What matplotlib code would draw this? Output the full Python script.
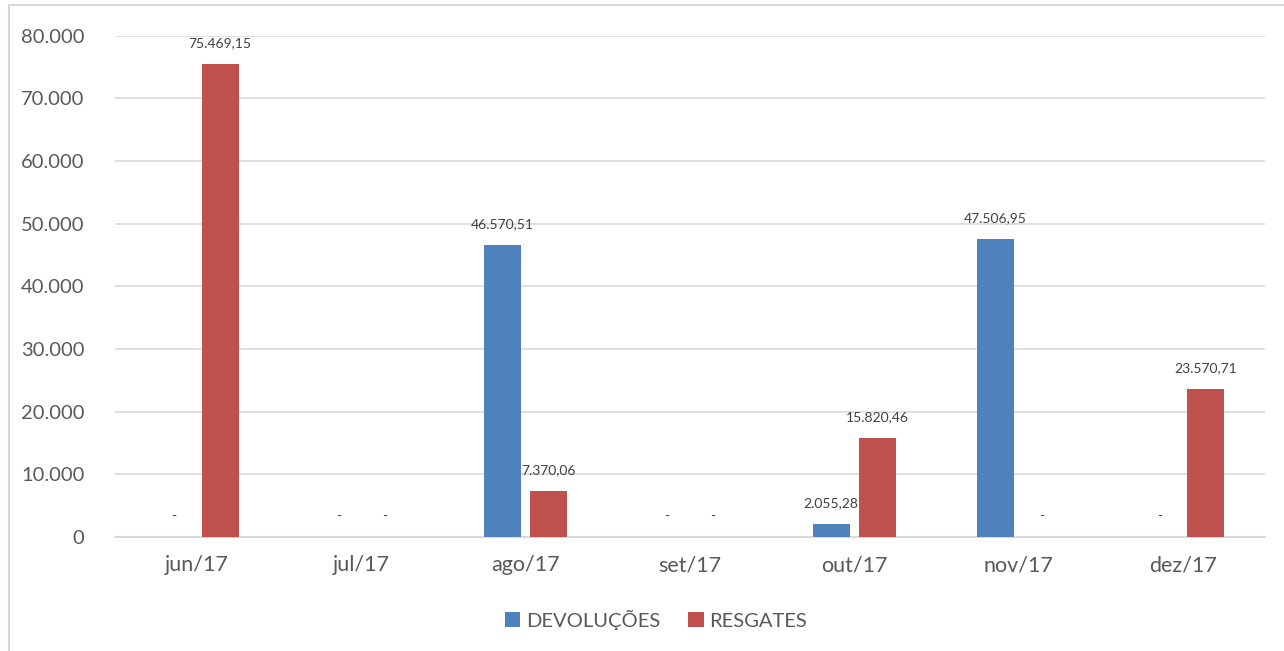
import numpy as np
import matplotlib.pyplot as plt
from matplotlib.patches import Rectangle

meses = ['jun/17', 'jul/17', 'ago/17', 'set/17', 'out/17', 'nov/17', 'dez/17']
devolucoes = [0, 0, 46570.51, 0, 2055.28, 47506.95, 0]
resgates = [75469.15, 0, 7370.06, 0, 15820.46, 0, 23570.71]
y_ticks = [0, 10000, 20000, 30000, 40000, 50000, 60000, 70000, 80000]

azul = '#4F81BD'
vermelho = '#C0504D'
cinza = '#595959'

plt.rcParams['font.family'] = ['Lato', 'DejaVu Sans']


def fmt_br(v, dec=2):
    # formato brasileiro: ponto para milhar, virgula para decimal
    if v == 0:
        return '-'
    s = f'{v:,.{dec}f}'
    return s.replace(',', 'X').replace('.', ',').replace('X', '.')


fig = plt.figure(figsize=(12.84, 6.51), dpi=100)
ax = fig.add_axes([0.0896, 0.175, 0.8954, 0.770])

x = np.arange(len(meses))
w = 0.225
off = 0.14
b1 = ax.bar(x - off, devolucoes, w, color=azul, label='DEVOLUÇÕES', zorder=3)
b2 = ax.bar(x + off, resgates, w, color=vermelho, label='RESGATES', zorder=3)

for barras, vals in ((b1, devolucoes), (b2, resgates)):
    for b, v in zip(barras, vals):
        ax.annotate(fmt_br(v), (b.get_x() + b.get_width() / 2, v),
                    xytext=(0, 15), textcoords='offset points',
                    ha='center', va='center', fontsize=10, color='#404040')

ax.set_xlim(-0.5, len(meses) - 0.5)
ax.set_ylim(0, 80000)
ax.set_yticks(y_ticks)
ax.set_yticklabels([fmt_br(t, 0) if t else '0' for t in y_ticks])
ax.set_xticks(x)
ax.set_xticklabels(meses)
ax.tick_params(axis='x', length=0, labelsize=15.5, colors=cinza, pad=13)
ax.tick_params(axis='y', length=0, labelsize=14.5, colors=cinza, pad=22)
ax.grid(axis='y', color='#D9D9D9', lw=1.2, zorder=0)
for s in ['top', 'right', 'left']:
    ax.spines[s].set_visible(False)
ax.spines['bottom'].set_color('#D9D9D9')
ax.spines['bottom'].set_linewidth(1.5)

fig.legend(handles=[b1, b2], loc='center', bbox_to_anchor=(0.511, 0.048),
           ncol=2, frameon=False, fontsize=14.5, handlelength=0.75,
           handleheight=0.75, handletextpad=0.3, columnspacing=1.4,
           labelcolor=cinza)

# moldura do grafico
fig.patches.append(Rectangle((9 / 1284, -0.05), 1.2, 1 - 5 / 651 + 0.05,
                             transform=fig.transFigure, fill=False,
                             edgecolor='#D9D9D9', lw=1.5))

plt.savefig('out.png', dpi=100)
